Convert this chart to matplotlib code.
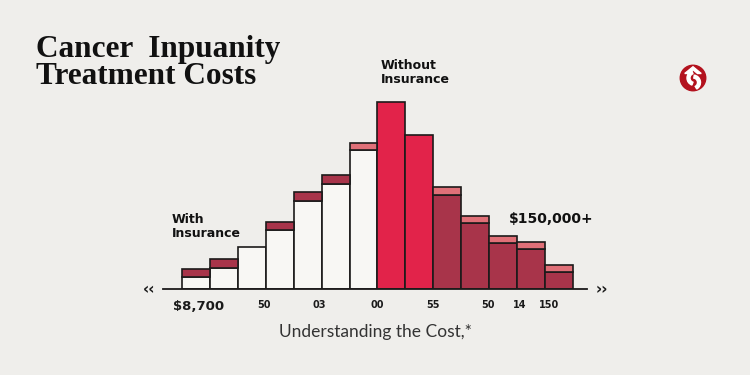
import matplotlib
matplotlib.use("Agg")
import matplotlib.pyplot as plt
from matplotlib.patches import Circle, Wedge, Polygon

# ---- data ----
bins = list(range(14))
base_values = [12, 21, 42, 59, 88, 105, 139, 187, 154, 94, 66, 46, 40, 17]
cap_values = [8, 9, 0, 8, 9, 9, 7, 0, 0, 8, 7, 7, 7, 7]
base_groups = ["with"] * 7 + ["without"] * 2 + ["high"] * 5
cap_groups = ["dark"] * 6 + ["light"] + ["none"] * 2 + ["light"] * 5
tick_positions = [0.59, 2.93, 4.93, 7.0, 8.97, 10.96, 12.09, 13.13]
tick_labels = ["$8,700", "50", "03", "00", "55", "50", "14", "150"]

# ---- styles ----
BG = "#efeeeb"
EDGE = "#1c1a1a"
base_colors = {"with": "#f8f7f4", "without": "#e2234a", "high": "#a8344a"}
cap_colors = {"dark": "#a8344a", "light": "#e07078", "none": "none"}

W, H = 750, 375
fig = plt.figure(figsize=(7.5, 3.75), dpi=100, facecolor=BG)

left_px, right_px = 162.7, 586.7
bar0_px, unit_px = 181.7, 27.97
base_px = 289.3
ax = fig.add_axes([left_px / W, (H - base_px) / H, (right_px - left_px) / W, 200 / H])
ax.set_facecolor("none")
ax.set_xlim((left_px - bar0_px) / unit_px, (right_px - bar0_px) / unit_px)
ax.set_ylim(0, 200)
for s in ["top", "right", "left"]:
    ax.spines[s].set_visible(False)
ax.spines["bottom"].set_color(EDGE)
ax.spines["bottom"].set_linewidth(1.3)
ax.set_yticks([])

ax.bar(bins, base_values, width=1, align="edge",
       color=[base_colors[g] for g in base_groups],
       edgecolor=EDGE, linewidth=1.2, zorder=2)
cap_idx = [i for i, v in enumerate(cap_values) if v > 0]
ax.bar([bins[i] for i in cap_idx], [cap_values[i] for i in cap_idx], width=1,
       bottom=[base_values[i] for i in cap_idx], align="edge",
       color=[cap_colors[cap_groups[i]] for i in cap_idx],
       edgecolor=EDGE, linewidth=1.2, zorder=2)

ax.set_xticks(tick_positions)
ax.set_xticklabels(tick_labels, fontsize=7, fontweight="bold", color="#1a1a1a",
                   family="DejaVu Sans")
for lbl in ax.get_xticklabels():
    if lbl.get_text().startswith("$"):
        lbl.set_fontsize(9.5)
ax.tick_params(axis="x", length=0, pad=8)

fig.text(149 / W, 1 - 289.5 / H, "‹‹", fontsize=11, fontweight="bold",
         ha="center", va="center", color="#1a1a1a")
fig.text(602 / W, 1 - 289.5 / H, "››", fontsize=11, fontweight="bold",
         ha="center", va="center", color="#1a1a1a")

# title
fig.text(36 / W, 1 - 50 / H, "Cancer  Inpuanity", fontsize=22.5, fontweight="bold",
         family="Liberation Serif", ha="left", va="center", color="#111111")
fig.text(36 / W, 1 - 77 / H, "Treatment Costs", fontsize=22.5, fontweight="bold",
         family="Liberation Serif", ha="left", va="center", color="#111111")

# annotations
fig.text(381 / W, 1 - 72.5 / H, "Without\nInsurance", fontsize=9, fontweight="bold",
         ha="left", va="center", color="#111111", linespacing=1.15)
fig.text(172 / W, 1 - 226.5 / H, "With\nInsurance", fontsize=9, fontweight="bold",
         ha="left", va="center", color="#111111", linespacing=1.15)
fig.text(509 / W, 1 - 219 / H, "$150,000+", fontsize=10, fontweight="bold",
         ha="left", va="center", color="#111111")

fig.text(375 / W, 1 - 332 / H, "Understanding the Cost,*", fontsize=12.5,
         family="Lato", fontweight="normal", ha="center", va="center", color="#333333")

# logo
lax = fig.add_axes([678 / W, 1 - 93 / H, 30 / W, 30 / H])
lax.set_xlim(-1, 1); lax.set_ylim(-1, 1); lax.set_aspect("equal"); lax.axis("off")
lax.add_patch(Circle((0, 0), 0.85, color="#b3121e"))
lax.add_patch(Polygon([(-0.55, 0.3), (0.0, 0.75), (0.55, 0.3), (0.3, 0.3), (0.0, 0.55), (-0.3, 0.3)],
                      color="white"))
lax.add_patch(Wedge((0.1, 0.0), 0.5, 110, 250, width=0.2, color="white"))
lax.add_patch(Wedge((0.0, -0.3), 0.5, -60, 80, width=0.2, color="white"))

fig.savefig("out.png", dpi=100, facecolor=BG)
